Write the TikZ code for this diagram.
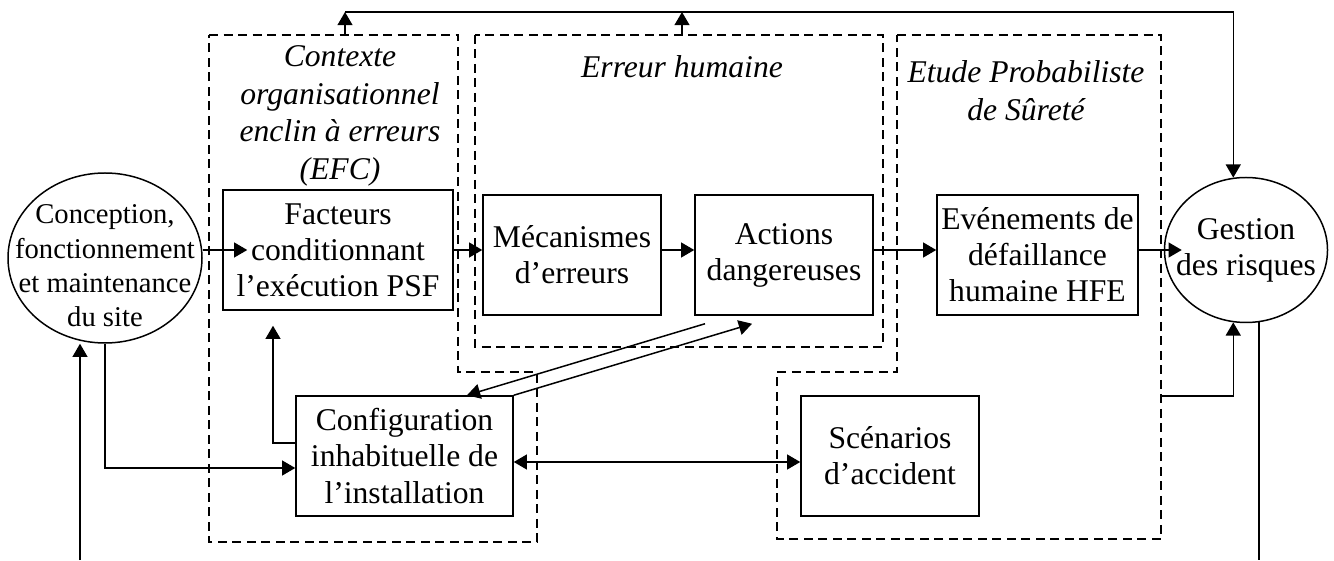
\documentclass[tikz,border=0pt]{standalone}
\usepackage{fontspec}
\setmainfont{Liberation Serif}
\usetikzlibrary{arrows.meta,shapes.geometric}

\begin{document}
\begin{tikzpicture}[>={Triangle[length=7.5pt,width=8.5pt]},line width=0.85pt,
  bloc/.style={draw,align=center,inner sep=1pt,minimum height=2.40cm,font=\fontsize{18}{20.5}\selectfont},
  bulle/.style={draw,ellipse,inner sep=0pt},
  zone/.style={draw,line width=0.7pt,dash pattern=on 0.18cm off 0.11cm},
  legende/.style={align=center,font=\fontsize{18}{21.5}\selectfont\itshape}]
  \useasboundingbox (0,0) rectangle (26.68,11.2);

  \draw[zone] (4.18,10.50) -- (9.16,10.50) -- (9.16,3.76) -- (10.74,3.76) -- (10.74,0.36) -- (4.18,0.36) -- cycle;
  \draw[zone] (9.50,10.50) rectangle (17.66,4.26);
  \draw[zone] (17.94,10.50) -- (23.22,10.50) -- (23.22,0.42) -- (15.54,0.42) -- (15.54,3.76) -- (17.94,3.76) -- cycle;

  \node[legende] (efclbl) at (6.80,8.88) {Contexte\\organisationnel\\enclin à erreurs\\(EFC)};
  \node[legende] (ehlbl) at (13.64,9.86) {Erreur humaine};
  \node[legende] (epslbl) at (20.52,9.38) {Etude Probabiliste\\de Sûreté};

  \node[bulle,minimum width=3.88cm,minimum height=3.40cm,
    label={[align=center,yshift=-0.16cm,font=\fontsize{16.3}{19.5}\selectfont]center:{Conception,\\fonctionnement\\et maintenance\\du site}}] (conception) at (2.10,6.04) {};
  \node[bulle,minimum width=3.26cm,minimum height=2.90cm,
    label={[align=center,font=\fontsize{18}{20.5}\selectfont]center:{Gestion\\des risques}}] (gestion) at (24.92,6.20) {};
  \node[bloc,minimum width=4.60cm] (facteurs) at (6.76,6.20) {Facteurs\\conditionnant\\l’exécution PSF};
  \node[bloc,minimum width=3.56cm] (mecanismes) at (11.44,6.10) {Mécanismes\\d’erreurs};
  \node[bloc,minimum width=3.56cm] (actions) at (15.68,6.10) {Actions\\dangereuses};
  \node[bloc,minimum width=4.02cm] (evenements) at (20.75,6.10) {Evénements de\\défaillance\\humaine HFE};
  \node[bloc,minimum width=4.34cm] (config) at (8.09,2.08) {Configuration\\inhabituelle de\\l’installation};
  \node[bloc,minimum width=3.56cm] (scenarios) at (17.80,2.08) {Scénarios\\d’accident};

  \coordinate (efctop) at (6.90,10.50);
  \coordinate (ehtop) at (13.64,10.50);
  \coordinate (hautg) at (6.90,10.96);
  \coordinate (hautm) at (13.64,10.96);
  \coordinate (epsout) at (23.22,3.28);
  \coordinate (basg) at (1.60,0);
  \coordinate (basd) at (25.17,0);

  \draw[->] (efctop) -- (hautg);
  \draw[->] (ehtop) -- (hautm);
  \draw[->] (hautg) -| (gestion.100);
  \draw[->] (epsout) -| (gestion.260);
  \draw (gestion.280) -- (gestion.280 |- basd);
  \draw[->] (basg) -- (basg |- conception.south);

  \draw[->,shorten >=-0.5cm] (facteurs.west -| conception.east) -- (facteurs.west);
  \draw[->] (facteurs.east) -- (facteurs.east -| mecanismes.west);
  \draw[->] (facteurs.east -| mecanismes.east) -- (facteurs.east -| actions.west);
  \draw[->] (facteurs.east -| actions.east) -- (facteurs.east -| evenements.west);
  \draw[->,shorten >=-0.36cm] (facteurs.east -| evenements.east) -- (facteurs.east -| gestion.west);

  \draw[->] (conception.south) |- ([yshift=-0.24cm]config.west);
  \draw[->,shorten >=0.3cm] ([yshift=0.26cm]config.west) -| ([xshift=-1.30cm]facteurs.south);
  \draw[<->] ([yshift=-0.12cm]config.east) -- ([yshift=-0.12cm]scenarios.west);
  \draw[->] ([xshift=-1.58cm,yshift=-0.16cm]actions.south) -- ([xshift=1.25cm]config.north);
  \draw[->] (config.north east) -- ([xshift=-0.64cm,yshift=-0.16cm]actions.south);
\end{tikzpicture}
\end{document}
